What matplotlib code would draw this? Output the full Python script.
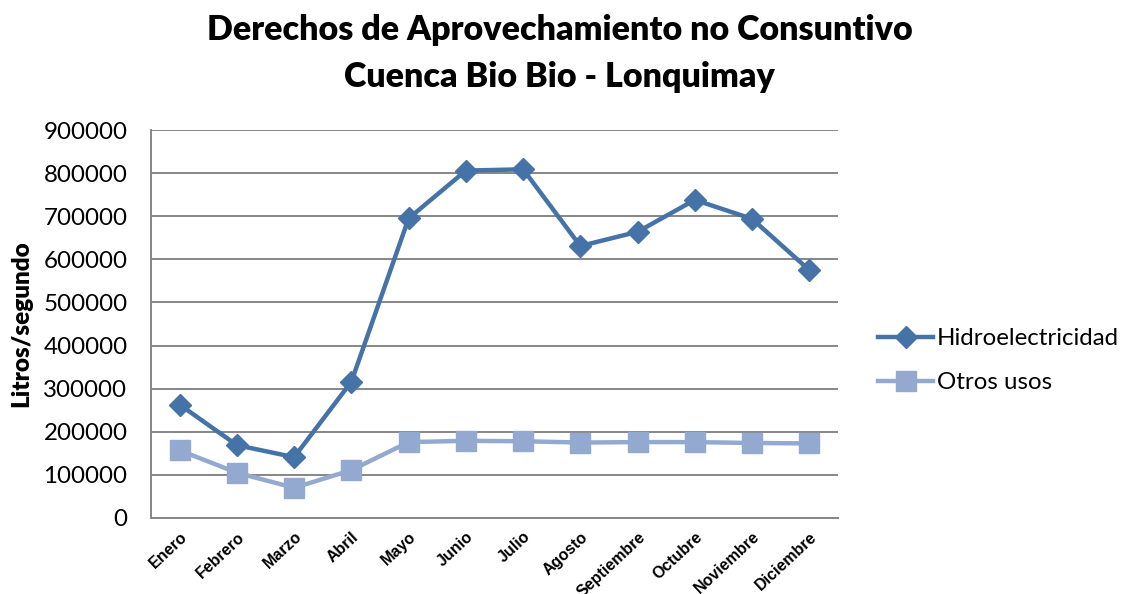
import matplotlib
matplotlib.use("Agg")
import matplotlib.pyplot as plt

# Monthly values, litres per second
meses = ["Enero", "Febrero", "Marzo", "Abril", "Mayo", "Junio", "Julio",
         "Agosto", "Septiembre", "Octubre", "Noviembre", "Diciembre"]
hidroelectricidad = [263000, 169000, 141000, 316000, 695000, 806000, 809000,
                     631000, 664000, 738000, 694000, 575000]
otros_usos = [157000, 105000, 70000, 111000, 176000, 179000, 178000,
              175000, 176000, 176000, 174000, 173000]
yticks = list(range(0, 900001, 100000))

fig = plt.figure(figsize=(11.26, 5.94), dpi=100)
ax = fig.add_axes([0.1341, 0.128, 0.6101, 0.653])

x = list(range(len(meses)))
ax.plot(x, hidroelectricidad, color="#4572A7", lw=3.2, marker="D",
        markersize=11, label="Hidroelectricidad")
ax.plot(x, otros_usos, color="#93A9D0", lw=3.2, marker="s",
        markersize=14, label="Otros usos")

ax.set_xlim(-0.5, len(meses) - 0.5)
ax.set_ylim(0, 900000)
ax.set_yticks(yticks)
ax.set_yticklabels([str(v) for v in yticks], family="Lato", fontsize=17.4)
ax.set_xticks(x)
ax.set_xticklabels(meses, rotation=43, ha="right", rotation_mode="anchor",
                   family="Liberation Sans", fontweight="bold", fontsize=11.5)
ax.tick_params(axis="both", length=0)
ax.tick_params(axis="x", pad=8)
ax.tick_params(axis="y", pad=17)

ax.grid(axis="y", color="#868686", lw=1.4)
ax.set_axisbelow(True)
for s in ["top", "right"]:
    ax.spines[s].set_visible(False)
ax.spines["left"].set_color("#868686")
ax.spines["bottom"].set_color("#868686")
ax.spines["left"].set_linewidth(1.4)
ax.spines["bottom"].set_linewidth(1.4)

ax.set_ylabel("Litros/segundo", family="Lato", fontweight="heavy",
              fontsize=17.5, labelpad=8)

fig.text(0.497, 0.949, "Derechos de Aprovechamiento no Consuntivo",
         family="Lato", fontweight="heavy", fontsize=24.5,
         ha="center", va="center")
fig.text(0.497, 0.870, "Cuenca Bio Bio - Lonquimay",
         family="Lato", fontweight="heavy", fontsize=24.5,
         ha="center", va="center")

ax.legend(loc="center left", bbox_to_anchor=(1.027, 0.405), frameon=False,
          prop={"family": "Lato", "size": 17.3}, handlelength=2.3,
          handletextpad=0.15, labelspacing=0.95)

fig.savefig("out.png", dpi=100)
